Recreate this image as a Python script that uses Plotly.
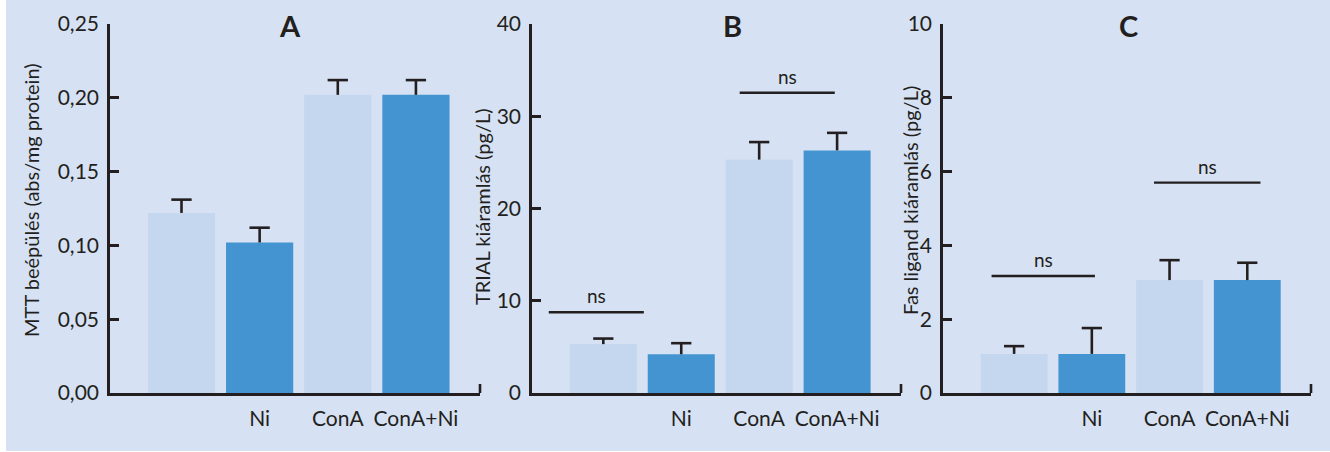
import plotly.graph_objects as go

# ---- data ----
categories = ["", "Ni", "ConA", "ConA+Ni"]

mtt_values = [0.122, 0.102, 0.202, 0.202]
mtt_errors = [0.009, 0.010, 0.010, 0.010]

trial_values = [5.3, 4.2, 25.3, 26.3]
trial_errors = [0.6, 1.2, 1.9, 1.9]

fasl_values = [1.06, 1.06, 3.06, 3.06]
fasl_errors = [0.21, 0.70, 0.54, 0.47]

# significance brackets: (x_start, x_end, height, label)
ns_B = [(-0.70, 0.52, 8.75, "ns"), (1.75, 2.97, 32.55, "ns")]
ns_C = [(-0.29, 1.04, 3.17, "ns"), (1.80, 3.17, 5.7, "ns")]

panel_titles = ["A", "B", "C"]
y_titles = ["MTT beépülés (abs/mg protein)", "TRIAL kiáramlás (pg/L)", "Fas ligand kiáramlás (pg/L)"]
y_ranges = [(0, 0.25), (0, 40), (0, 10)]
y_dticks = [0.05, 10, 2]
y_formats = [".2f", "d", "d"]

# ---- style ----
W, H = 1330, 452
BG = "#D6E2F3"
LIGHT = "#C5D7EE"
DARK = "#4394D0"
INK = "#231F20"
FONT = "Lato"
bar_colors = [LIGHT, DARK, LIGHT, DARK]

def px(x):
    return x / W

def py(y):
    return 1 - y / H

domains = [(px(110), px(480)), (px(532), px(901)), (px(943), px(1311))]
ydom = (py(393), py(24))
xrange_ = [-0.915, 3.82]
cap = 0.13

fig = go.Figure()
datasets = [(mtt_values, mtt_errors), (trial_values, trial_errors), (fasl_values, fasl_errors)]
brackets = [[], ns_B, ns_C]

for k, (vals, errs) in enumerate(datasets):
    xa = "x" if k == 0 else f"x{k+1}"
    ya = "y" if k == 0 else f"y{k+1}"
    idx = list(range(len(categories)))
    fig.add_trace(go.Bar(x=idx, y=vals, width=0.86, marker=dict(color=bar_colors, line=dict(width=0)),
                         xaxis=xa, yaxis=ya, showlegend=False, hoverinfo="y"))
    # error bars (upper only), built from data
    ex, ey = [], []
    for i, (v, e) in enumerate(zip(vals, errs)):
        ex += [i, i, None, i - cap, i + cap, None]
        ey += [v, v + e, None, v + e, v + e, None]
    fig.add_trace(go.Scatter(x=ex, y=ey, mode="lines", line=dict(color=INK, width=2.6),
                             xaxis=xa, yaxis=ya, showlegend=False, hoverinfo="skip"))
    # brackets
    for (x0, x1, h, lab) in brackets[k]:
        fig.add_trace(go.Scatter(x=[x0, x1], y=[h, h], mode="lines", line=dict(color=INK, width=2.4),
                                 xaxis=xa, yaxis=ya, showlegend=False, hoverinfo="skip"))
        fig.add_annotation(x=(x0 + x1) / 2, y=h, xref=xa, yref=ya, text=lab, showarrow=False,
                           yanchor="bottom", yshift=3, font=dict(family=FONT, size=19, color=INK))

    axx = dict(domain=list(domains[k]), range=xrange_, anchor=ya, showline=True, linecolor=INK, linewidth=2.6,
               tickmode="array", tickvals=idx, ticktext=categories, ticks="", showgrid=False, zeroline=False,
               tickfont=dict(family=FONT, size=21, color=INK), ticklabelstandoff=5, fixedrange=True,
               automargin=False)
    axy = dict(domain=list(ydom), range=list(y_ranges[k]), anchor=xa, showline=True, linecolor=INK, linewidth=2.6,
               dtick=y_dticks[k], tick0=0, tickformat=y_formats[k], ticks="inside", ticklen=9, tickwidth=2.6,
               tickcolor=INK, showgrid=False, zeroline=False,
               tickfont=dict(family=FONT, size=21, color=INK), ticklabelstandoff=4, fixedrange=True,
               automargin=False)
    fig.update_layout(**{("xaxis" if k == 0 else f"xaxis{k+1}"): axx,
                         ("yaxis" if k == 0 else f"yaxis{k+1}"): axy})
    # small upward tick at the right end of the x axis
    fig.add_shape(type="line", xref=f"{xa} domain", yref="paper", x0=1, x1=1, y0=py(393), y1=py(384),
                  line=dict(color=INK, width=2.6))

# panel titles
title_x = [290, 732, 1128]
for t, tx in zip(panel_titles, title_x):
    fig.add_annotation(x=px(tx), y=py(26), xref="paper", yref="paper", text=f"<b>{t}</b>", showarrow=False,
                       font=dict(family=FONT, size=29, color=INK), xanchor="center", yanchor="middle")

# y axis titles
ytx = [31, 482, 910]
yty = [200, 207, 201]
for t, tx, ty in zip(y_titles, ytx, yty):
    fig.add_annotation(x=px(tx), y=py(ty), xref="paper", yref="paper", text=t, textangle=-90, showarrow=False,
                       font=dict(family=FONT, size=20, color=INK), xanchor="center", yanchor="middle")

# background (white strip at left edge)
fig.add_shape(type="rect", xref="paper", yref="paper", x0=px(6), x1=1, y0=py(451), y1=1,
              fillcolor=BG, line=dict(width=0), layer="below")

fig.update_layout(width=W, height=H, margin=dict(l=0, r=0, t=0, b=0, autoexpand=False),
                  paper_bgcolor="white",
                  plot_bgcolor="rgba(0,0,0,0)", separators=", ", barmode="overlay",
                  font=dict(family=FONT, color=INK))

fig.write_html("out.html", config={"displayModeBar": False},
               post_script="document.body.style.margin='0';document.body.style.overflow='hidden';")
